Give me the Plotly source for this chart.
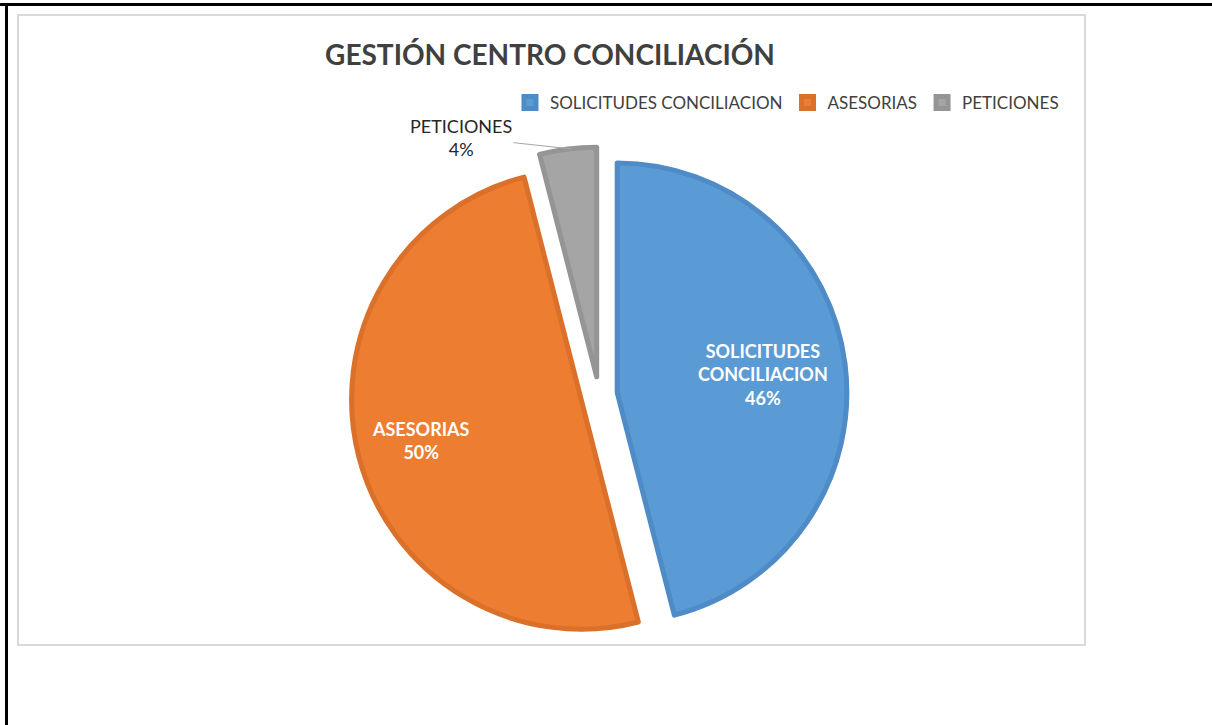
import math
import plotly.graph_objects as go

labels = ["SOLICITUDES CONCILIACION", "ASESORIAS", "PETICIONES"]
slice_text = ["SOLICITUDES<br>CONCILIACION", "ASESORIAS", "PETICIONES"]
values = [46, 50, 4]
colors = ["#5B9BD5", "#ED7D31", "#A5A5A5"]
edge_colors = ["#4F8BC6", "#DA7029", "#959595"]
title_text = "GESTIÓN CENTRO CONCILIACIÓN"

W, H = 1212, 725
FONT = "Lato, 'Open Sans', sans-serif"

# pie geometry (page pixels)
CX, CY, HALF = 599.0, 395.0, 248.0
PULL = 0.08
label_radius = [0.64, 0.72, None]   # fraction of radius for inside labels

total = sum(values)
pct = [round(v * 100 / total) for v in values]
R = HALF / (1 + PULL)

fig = go.Figure()
fig.add_trace(go.Pie(
    labels=labels,
    values=values,
    textinfo="none",
    sort=False,
    direction="clockwise",
    rotation=0,
    pull=[PULL] * len(values),
    marker=dict(colors=colors, line=dict(color=edge_colors, width=5)),
    domain=dict(x=[(CX - 1.2 * HALF) / W, (CX + 1.2 * HALF) / W],
                y=[1 - (CY + HALF) / H, 1 - (CY - HALF) / H]),
    hoverinfo="label+percent",
))

# slice labels placed along each slice bisector
cum = 0.0
for i, v in enumerate(values):
    mid = (cum + v / 2) / total * 2 * math.pi
    cum += v
    if label_radius[i] is None:
        continue
    dist = R * (PULL + label_radius[i])
    px = CX + dist * math.sin(mid)
    py = CY - dist * math.cos(mid)
    fig.add_annotation(
        x=px / W, y=1 - py / H, xref="paper", yref="paper",
        text=f"{slice_text[i]}<br>{pct[i]}%", showarrow=False,
        font=dict(family=FONT, size=18, color="white", weight="bold"),
        align="center", xanchor="center", yanchor="middle",
    )

# outside label for the small slice
fig.add_annotation(
    x=572 / W, y=1 - 149 / H, xref="paper", yref="paper",
    text=f"{labels[2]}<br>{pct[2]}%",
    showarrow=True, arrowhead=0, arrowwidth=1, arrowcolor="#A6A6A6",
    ax=-111, ay=-12,
    font=dict(family=FONT, size=18, color="#262626"),
    align="center",
)

# chart area border
fig.add_shape(type="rect", xref="paper", yref="paper",
              x0=18 / W, x1=1085 / W, y0=1 - 645 / H, y1=1 - 15 / H,
              line=dict(color="#D9D9D9", width=2), fillcolor="rgba(0,0,0,0)", layer="below")
# page border lines
fig.add_shape(type="line", xref="paper", yref="paper",
              x0=0, x1=1, y0=1 - 4.5 / H, y1=1 - 4.5 / H,
              line=dict(color="black", width=3))
fig.add_shape(type="line", xref="paper", yref="paper",
              x0=6.5 / W, x1=6.5 / W, y0=0, y1=1 - 4.5 / H,
              line=dict(color="black", width=3))

fig.update_layout(
    width=W, height=H,
    margin=dict(l=0, r=0, t=0, b=0),
    paper_bgcolor="white", plot_bgcolor="white",
    title=dict(text=title_text, x=550 / W, y=1 - 55 / H, xanchor="center", yanchor="middle",
               font=dict(family=FONT, size=28, color="#404040", weight="bold")),
    showlegend=True,
    legend=dict(orientation="h", x=510 / W, y=1 - 103 / H, xanchor="left", yanchor="middle",
                font=dict(family=FONT, size=17, color="#404040"),
                itemwidth=30, traceorder="normal", bgcolor="rgba(0,0,0,0)"),
)

fig.write_html("out.html", config={"displayModeBar": False},
               post_script="document.body.style.margin='0';document.body.style.overflow='hidden';")
